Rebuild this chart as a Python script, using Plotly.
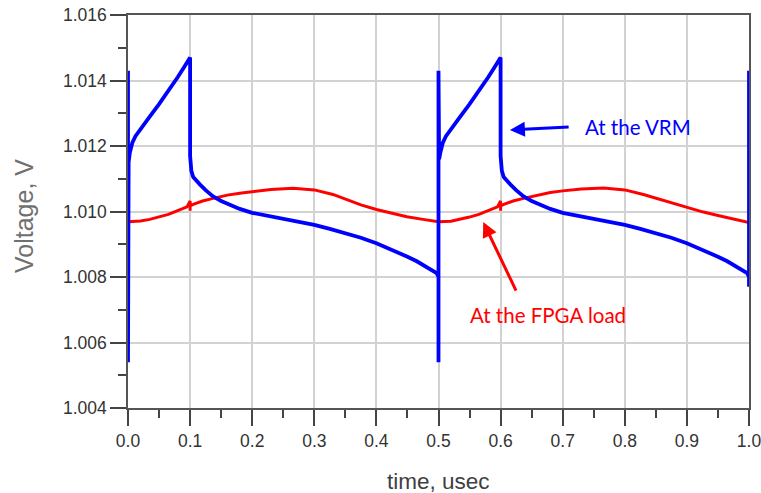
import plotly.graph_objects as go

# ---- data (time in usec, voltage in V) ----
vrm_t = [0.0, 0.0, 0.0, 0.001, 0.003, 0.007, 0.012, 0.02, 0.035, 0.05, 0.065, 0.08, 0.09, 0.097,
         0.1, 0.1, 0.1005, 0.102, 0.105, 0.11, 0.116, 0.125, 0.137, 0.15, 0.164, 0.18, 0.2,
         0.225, 0.25, 0.275, 0.3, 0.325, 0.35, 0.375, 0.4, 0.425, 0.45, 0.465, 0.48, 0.49,
         0.497, 0.5, 0.5, 0.5, 0.5, 0.501, 0.503, 0.507, 0.512, 0.52, 0.535, 0.55, 0.565, 0.58,
         0.59, 0.597, 0.6, 0.6, 0.6005, 0.602, 0.605, 0.61, 0.616, 0.625, 0.637, 0.65, 0.664,
         0.68, 0.7, 0.725, 0.75, 0.775, 0.8, 0.825, 0.85, 0.875, 0.9, 0.925, 0.95, 0.965, 0.98,
         0.99, 0.997, 1.0, 1.0, 1.0, 1.0]
vrm_v = [1.0143, 1.0054, 1.0095, 1.0115, 1.0118, 1.0121, 1.0123, 1.01252, 1.0129, 1.01328,
         1.01368, 1.0141, 1.0144, 1.01463, 1.0147, 1.0117, 1.0113, 1.01124, 1.01105, 1.01093,
         1.01082, 1.01065, 1.01046, 1.01032, 1.0102, 1.01008, 1.00996, 1.00987, 1.00978,
         1.00969, 1.00959, 1.00947, 1.00934, 1.0092, 1.00903, 1.00884, 1.00862, 1.00848,
         1.00832, 1.0082, 1.00812, 1.0080, 1.0054, 1.0143, 1.0113, 1.0116, 1.0118, 1.0121,
         1.0123, 1.01252, 1.0129, 1.01328, 1.01368, 1.0141, 1.0144, 1.01463, 1.0147, 1.0117,
         1.0113, 1.01124, 1.01105, 1.01093, 1.01082, 1.01065, 1.01046, 1.01032, 1.0102,
         1.01008, 1.00996, 1.00987, 1.00978, 1.00969, 1.00959, 1.00947, 1.00934, 1.0092,
         1.00903, 1.00884, 1.00862, 1.00848, 1.00832, 1.0082, 1.00812, 1.0080, 1.0077,
         1.0143, 1.0095]

fpga_t = [0.0, 0.02, 0.035, 0.05, 0.065, 0.08, 0.095, 0.1, 0.1, 0.1, 0.105, 0.12, 0.137,
          0.16, 0.18, 0.2, 0.23, 0.266, 0.3, 0.33, 0.352, 0.375, 0.4, 0.425, 0.449, 0.475,
          0.5, 0.52, 0.535, 0.55, 0.565, 0.58, 0.595, 0.6, 0.6, 0.6, 0.605, 0.62, 0.637,
          0.66, 0.68, 0.7, 0.73, 0.766, 0.8, 0.83, 0.852, 0.875, 0.9, 0.925, 0.95, 0.975, 1.0]
fpga_v = [1.00969, 1.00971, 1.00976, 1.00983, 1.00991, 1.01003, 1.01014, 1.01032, 1.01002,
          1.01017, 1.01022, 1.01032, 1.0104, 1.0105, 1.01056, 1.0106, 1.01067, 1.01071,
          1.01066, 1.01052, 1.01037, 1.0102, 1.01006, 1.00994, 1.00984, 1.00976, 1.00969,
          1.0097, 1.00976, 1.00983, 1.00991, 1.01003, 1.01014, 1.01032, 1.01002, 1.01017,
          1.01022, 1.01032, 1.0104, 1.0105, 1.01058, 1.01063, 1.01069, 1.01072, 1.01066,
          1.01052, 1.0104, 1.01026, 1.01012, 1.00999, 1.00988, 1.00977, 1.00966]

x_ticks = [0.0, 0.1, 0.2, 0.3, 0.4, 0.5, 0.6, 0.7, 0.8, 0.9, 1.0]
y_ticks = [1.004, 1.006, 1.008, 1.010, 1.012, 1.014, 1.016]

fig = go.Figure()
fig.add_trace(go.Scatter(x=fpga_t, y=fpga_v, mode="lines", name="At the FPGA load",
                         line=dict(color="#ff0000", width=3), cliponaxis=False))
fig.add_trace(go.Scatter(x=vrm_t, y=vrm_v, mode="lines", name="At the VRM",
                         line=dict(color="#0000ff", width=3.8), cliponaxis=False))

sans = "Liberation Sans, Arial, sans-serif"
tickfont = dict(family=sans, size=17.5, color="#333333")
axis_common = dict(ticks="outside", ticklen=16, tickwidth=1.5, tickcolor="#444444",
                   showline=True, linecolor="#555555", linewidth=1.5, mirror=True,
                   showgrid=True, gridcolor="#d2d2d2", gridwidth=1.5, zeroline=False,
                   tickfont=tickfont, automargin=False, ticklabeloverflow="allow")
fig.update_layout(
    width=761, height=493,
    margin=dict(l=128, r=12, t=15, b=85),
    paper_bgcolor="white", plot_bgcolor="white",
    showlegend=False,
    xaxis=dict(range=[0, 1], tickvals=x_ticks, ticktext=[f"{v:.1f}" for v in x_ticks],
               minor=dict(dtick=0.05, ticks="outside", ticklen=8, tickwidth=1.5,
                          tickcolor="#444444", showgrid=False),
               **axis_common),
    yaxis=dict(range=[1.004, 1.016], tickvals=y_ticks,
               ticktext=[f"{v:.3f}" for v in y_ticks],
               minor=dict(dtick=0.001, ticks="outside", ticklen=8, tickwidth=1.5,
                          tickcolor="#444444", showgrid=False),
               **axis_common),
)

# axis titles
fig.add_annotation(x=0.5, y=-0.186, xref="paper", yref="paper", text="time, usec",
                   showarrow=False, xanchor="center", yanchor="middle",
                   font=dict(family=sans, size=22.5, color="#404040"))
fig.add_annotation(x=-0.1675, y=0.4885, xref="paper", yref="paper", text="Voltage, V",
                   showarrow=False, xanchor="center", yanchor="middle", textangle=-90,
                   font=dict(family=sans, size=25, color="#707070"))

ann_font = "Lato, Noto Sans, sans-serif"
# arrows
fig.add_annotation(x=0.615, y=1.01249, ax=0.712, ay=1.01258, xref="x", yref="y",
                   axref="x", ayref="y", showarrow=True, arrowhead=2, arrowsize=1,
                   arrowwidth=3, arrowcolor="#0000ff", text="", standoff=0)
fig.add_annotation(x=0.572, y=1.00968, ax=0.626, ay=1.00754, xref="x", yref="y",
                   axref="x", ayref="y", showarrow=True, arrowhead=2, arrowsize=1,
                   arrowwidth=3, arrowcolor="#ff0000", text="", standoff=0)
# labels
fig.add_annotation(x=0.733, y=1.01258, xref="x", yref="y", text="At the VRM",
                   showarrow=False, xanchor="left", yanchor="middle",
                   font=dict(family=ann_font, size=20.5, color="#0000ff"))
fig.add_annotation(x=0.676, y=1.00684, xref="x", yref="y", text="At the FPGA load",
                   showarrow=False, xanchor="center", yanchor="middle",
                   font=dict(family=ann_font, size=20.5, color="#ff0000"))

fig.write_html("out.html")
